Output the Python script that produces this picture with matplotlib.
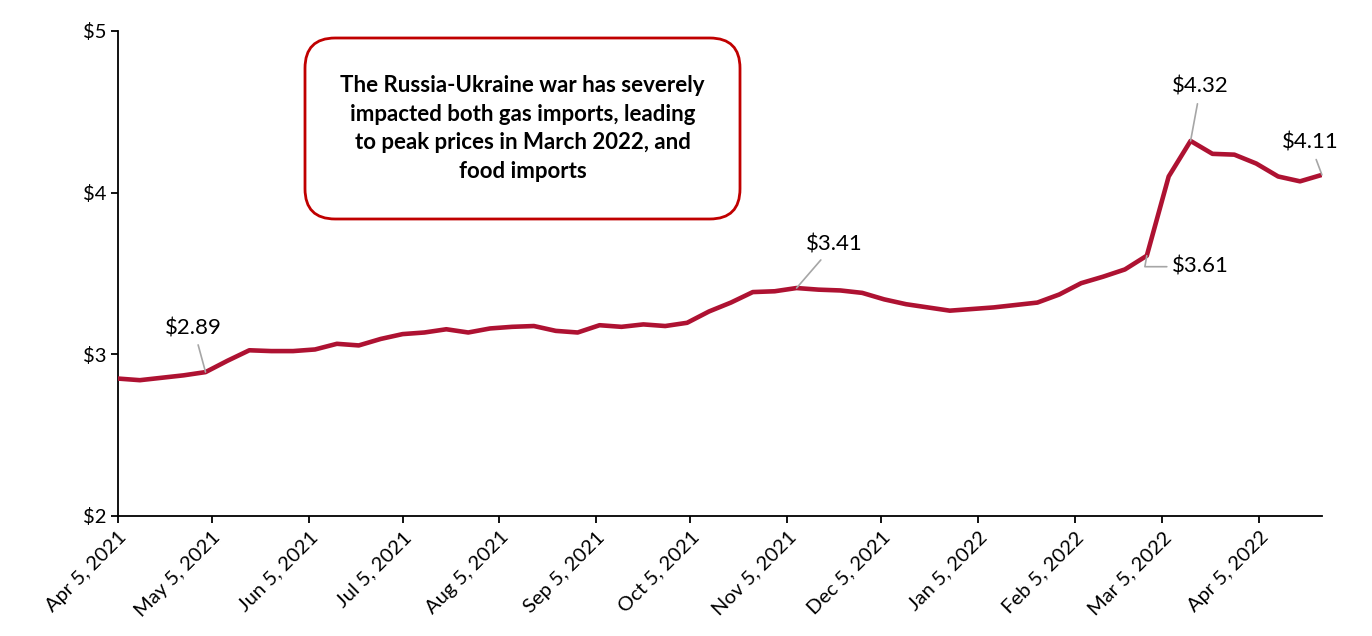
import matplotlib
matplotlib.use("Agg")
import matplotlib.pyplot as plt
import matplotlib.dates as mdates
from matplotlib.patches import FancyBboxPatch
import pandas as pd

plt.rcParams["font.family"] = ["Lato", "DejaVu Sans"]

# weekly average US regular gas price
weeks = pd.date_range("2021-04-05", periods=56, freq="7D")
prices = [
    2.85, 2.84, 2.855, 2.87, 2.89, 2.96, 3.025, 3.02, 3.02, 3.03,
    3.065, 3.055, 3.095, 3.125, 3.135, 3.155, 3.135, 3.16, 3.17, 3.175,
    3.145, 3.135, 3.18, 3.17, 3.185, 3.175, 3.195, 3.265, 3.32, 3.385,
    3.39, 3.41, 3.40, 3.395, 3.38, 3.34, 3.31, 3.29, 3.27, 3.28,
    3.29, 3.305, 3.32, 3.37, 3.44, 3.48, 3.525, 3.61, 4.10, 4.32,
    4.24, 4.235, 4.18, 4.10, 4.07, 4.11,
]

tick_dates = pd.to_datetime([
    "2021-04-05", "2021-05-05", "2021-06-05", "2021-07-05", "2021-08-05",
    "2021-09-05", "2021-10-05", "2021-11-05", "2021-12-05", "2022-01-05",
    "2022-02-05", "2022-03-05", "2022-04-05",
])
y_ticks = [2, 3, 4, 5]

# (week index, label, offset in pixels, style)
callouts = [
    (4, "$2.89", (-12, 44), "line"),
    (31, "$3.41", (38, 44), "line"),
    (47, "$3.61", (54, -11), "elbow"),
    (49, "$4.32", (10, 54), "line"),
    (55, "$4.11", (-12, 32), "line"),
]

note = ("The Russia-Ukraine war has severely\nimpacted both gas imports, leading\n"
        "to peak prices in March 2022, and\nfood imports")

line_color = "#AE1232"
grey = "#A6A6A6"
W, H = 1372, 636

fig = plt.figure(figsize=(W / 100, H / 100), dpi=100)
ax = fig.add_axes([0.086, 0.1887, 0.8775, 0.7626])

ax.plot(weeks, prices, color=line_color, lw=3.3, solid_joinstyle="round", zorder=3)

ax.set_xlim(weeks[0], weeks[-1])
ax.set_ylim(2, 5)
ax.set_yticks(y_ticks)
ax.set_yticklabels([f"${v}" for v in y_ticks])
ax.set_xticks(tick_dates)
ax.xaxis.set_major_formatter(mdates.DateFormatter("%b %-d, %Y"))
plt.setp(ax.get_xticklabels(), rotation=45, ha="right", rotation_mode="anchor")

for s in ["top", "right"]:
    ax.spines[s].set_visible(False)
for s in ["left", "bottom"]:
    ax.spines[s].set_linewidth(1.3)
ax.tick_params(axis="both", labelsize=14.5, width=1.3, length=5, direction="out")
ax.tick_params(axis="x", pad=4)

for idx, label, off, style in callouts:
    if style == "elbow":
        props = dict(arrowstyle="-", color=grey, lw=1.2, shrinkA=2, shrinkB=0,
                     relpos=(0, 0.5), connectionstyle="angle,angleA=0,angleB=80,rad=0")
    else:
        props = dict(arrowstyle="-", color=grey, lw=1.2, shrinkA=3, shrinkB=0)
    ax.annotate(label, xy=(weeks[idx], prices[idx]), xytext=off,
                textcoords="offset pixels", ha="center", va="center",
                fontsize=16, arrowprops=props, zorder=4)

# note box, pixel extents from the reference
bx0, bx1, by0, by1 = 305, 740, 38, 219
box = FancyBboxPatch((bx0 / W, 1 - by1 / H), (bx1 - bx0) / W, (by1 - by0) / H,
                     boxstyle="round,pad=0,rounding_size=0.022",
                     mutation_aspect=W / H,
                     transform=fig.transFigure, fc="white", ec="#C00000", lw=2)
fig.patches.append(box)
fig.text((bx0 + bx1) / 2 / W, 1 - (by0 + by1) / 2 / H, note, ha="center", va="center",
         fontsize=16, fontweight="bold", linespacing=1.45)

fig.savefig("out.png", dpi=100)
